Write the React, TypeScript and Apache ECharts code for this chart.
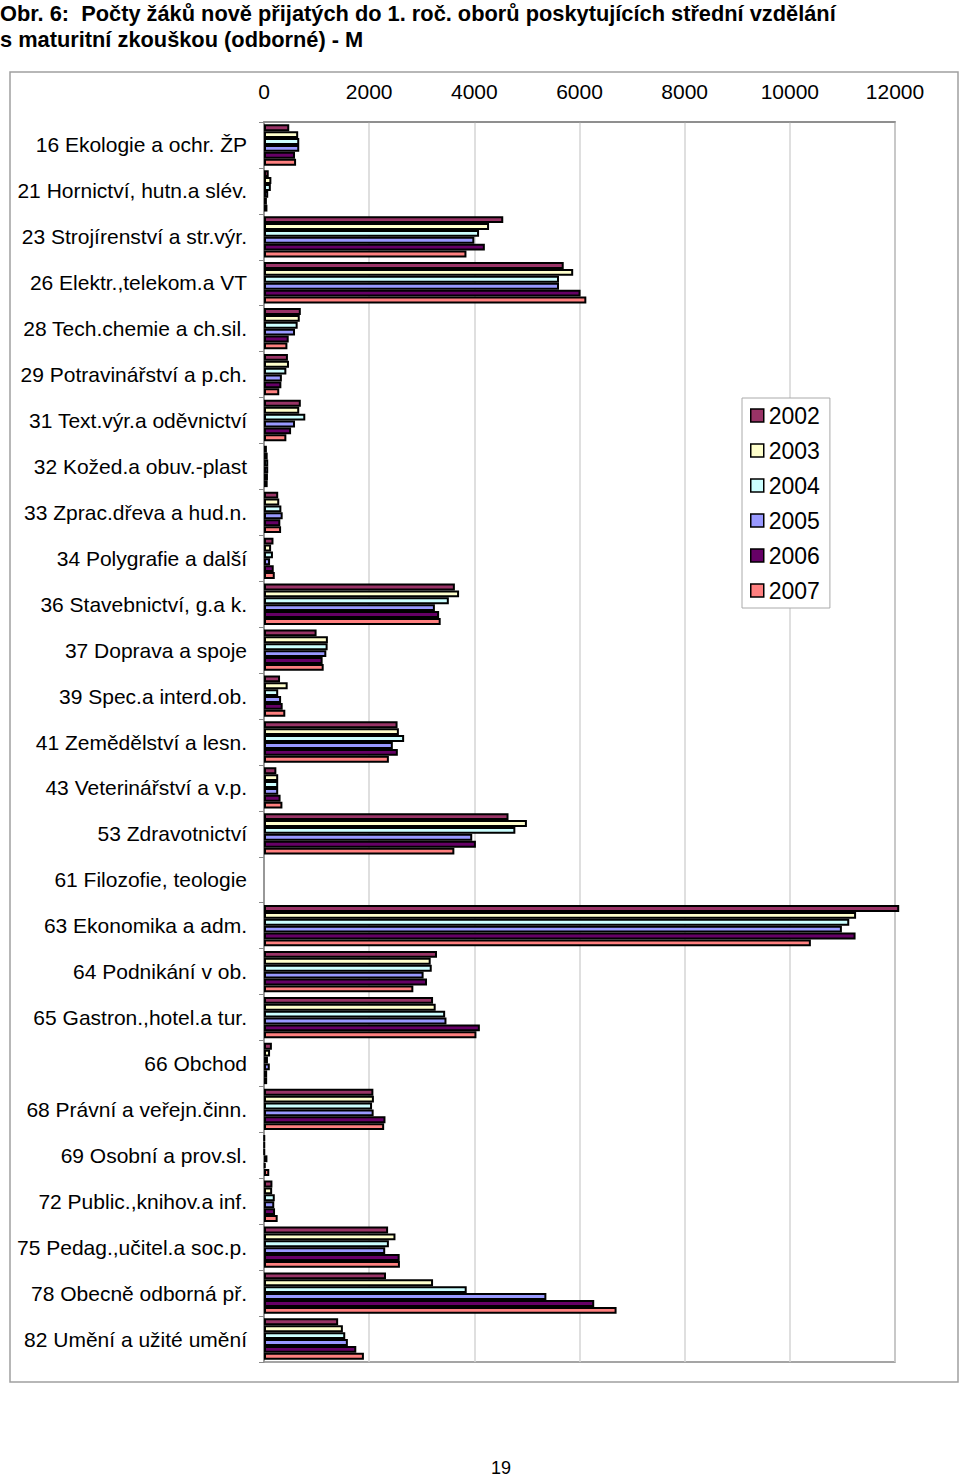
import React, { useEffect, useRef } from "react";
import * as echarts from "echarts";

const categories = [
  "16 Ekologie a ochr. ŽP",
  "21 Hornictví, hutn.a slév.",
  "23 Strojírenství a str.výr.",
  "26 Elektr.,telekom.a VT",
  "28 Tech.chemie a ch.sil.",
  "29 Potravinářství a p.ch.",
  "31 Text.výr.a oděvnictví",
  "32 Kožed.a obuv.-plast",
  "33 Zprac.dřeva a hud.n.",
  "34 Polygrafie a další",
  "36 Stavebnictví, g.a k.",
  "37 Doprava a spoje",
  "39 Spec.a interd.ob.",
  "41 Zemědělství a lesn.",
  "43 Veterinářství a v.p.",
  "53 Zdravotnictví",
  "61 Filozofie, teologie",
  "63 Ekonomika a adm.",
  "64 Podnikání v ob.",
  "65 Gastron.,hotel.a tur.",
  "66 Obchod",
  "68 Právní a veřejn.činn.",
  "69 Osobní a prov.sl.",
  "72 Public.,knihov.a inf.",
  "75 Pedag.,učitel.a soc.p.",
  "78 Obecně odborná př.",
  "82 Umění a užité umění",
];

const years = ["2002", "2003", "2004", "2005", "2006", "2007"];

const v2002 = [480, 90, 4550, 5700, 700, 455, 700, 55, 270, 180, 3630, 1000, 305, 2540, 235, 4650, null, 12080, 3290, 3215, 150, 2080, 10, 160, 2360, 2320, 1410];
const v2003 = [650, 140, 4280, 5880, 680, 475, 670, 70, 290, 135, 3710, 1215, 450, 2565, 270, 5000, null, 11260, 3170, 3265, 115, 2090, 10, 155, 2500, 3215, 1500];
const v2004 = [670, 130, 4090, 5610, 640, 425, 785, 80, 330, 170, 3515, 1210, 270, 2665, 270, 4780, null, 11130, 3190, 3445, 75, 2055, 10, 205, 2375, 3855, 1545];
const v2005 = [670, 80, 4000, 5610, 590, 340, 590, 80, 355, 115, 3250, 1185, 325, 2450, 270, 3960, null, 10990, 3035, 3470, 110, 2085, 65, 195, 2305, 5370, 1595];
const v2006 = [590, 55, 4200, 6020, 470, 330, 515, 75, 310, 185, 3330, 1115, 355, 2545, 315, 4030, null, 11250, 3100, 4105, 60, 2310, 30, 210, 2580, 6280, 1755];
const v2007 = [610, 65, 3850, 6130, 445, 290, 425, 70, 325, 205, 3360, 1135, 405, 2375, 350, 3620, null, 10400, 2840, 4040, 60, 2285, 100, 260, 2585, 6705, 1900];

const seriesValues = [v2002, v2003, v2004, v2005, v2006, v2007];
const colors = ["#993366", "#FFFFCC", "#CCFFFF", "#9999FF", "#660066", "#FF8080"];

const titleText =
  "Obr. 6:  Počty žáků nově přijatých do 1. roč. oborů poskytujících střední vzdělání\ns maturitní zkouškou (odborné) - M";

const FONT = "'Liberation Sans', Arial, sans-serif";

export default function App() {
  const ref = useRef<HTMLDivElement>(null);
  useEffect(() => {
    if (!ref.current) return;
    const chart = echarts.init(ref.current, null, { renderer: "svg" });
    chart.setOption({
      animation: false,
      backgroundColor: "#ffffff",
      color: colors,
      title: {
        text: titleText,
        left: 0,
        top: 0,
        padding: [0, 0, 0, 0],
        textStyle: {
          fontFamily: FONT,
          fontWeight: "bold",
          fontSize: 21.8,
          lineHeight: 26,
          color: "#000",
        },
      },
      legend: {
        orient: "vertical",
        left: 742,
        top: 398,
        data: years,
        itemWidth: 13,
        itemHeight: 13,
        itemGap: 12,
        padding: [6, 10, 6, 8],
        backgroundColor: "#ffffff",
        borderColor: "#aaaaaa",
        borderWidth: 1,
        icon: "rect",
        itemStyle: { borderColor: "#000", borderWidth: 1.5 },
        textStyle: { fontFamily: FONT, fontSize: 23, color: "#000" },
      },
      grid: {
        left: 264,
        top: 122,
        width: 631,
        height: 1240,
        show: true,
        borderColor: "#888888",
        borderWidth: 1.5,
        containLabel: false,
      },
      xAxis: {
        type: "value",
        position: "top",
        min: 0,
        max: 12000,
        interval: 2000,
        axisLine: { show: true, lineStyle: { color: "#888888", width: 1.5 } },
        axisTick: { show: false },
        axisLabel: {
          fontFamily: FONT,
          fontSize: 21,
          color: "#000",
          margin: 20,
          formatter: (v: number) => String(v),
        },
        splitLine: { show: true, lineStyle: { color: "#d4d4d4", width: 1.5 } },
      },
      yAxis: {
        type: "category",
        data: categories,
        inverse: true,
        axisLine: { show: true, lineStyle: { color: "#888888", width: 1.5 } },
        axisTick: { show: true, length: 5, lineStyle: { color: "#888888" } },
        axisLabel: { fontFamily: FONT, fontSize: 21, color: "#000", margin: 17 },
        splitLine: { show: false },
      },
      graphic: [
        {
          type: "rect",
          z: -10,
          silent: true,
          shape: { x: 10, y: 72, width: 948, height: 1310 },
          style: { fill: "none", stroke: "#a0a0a0", lineWidth: 1.5 },
        },
        {
          type: "text",
          x: 501,
          y: 1468,
          style: {
            text: "19",
            fontFamily: FONT,
            fontSize: 18,
            fill: "#000",
            align: "center",
            verticalAlign: "middle",
          },
        },
      ],
      series: years.map((y, i) => ({
        name: y,
        type: "bar",
        data: seriesValues[i],
        clip: false,
        barGap: "0%",
        barCategoryGap: "10%",
        itemStyle: { color: colors[i], borderColor: "#000", borderWidth: 2 },
      })),
    });
    return () => chart.dispose();
  }, []);
  return (
    <div
      ref={ref}
      style={{ position: "absolute", left: 0, top: 0, width: 960, height: 1477 }}
    />
  );
}
